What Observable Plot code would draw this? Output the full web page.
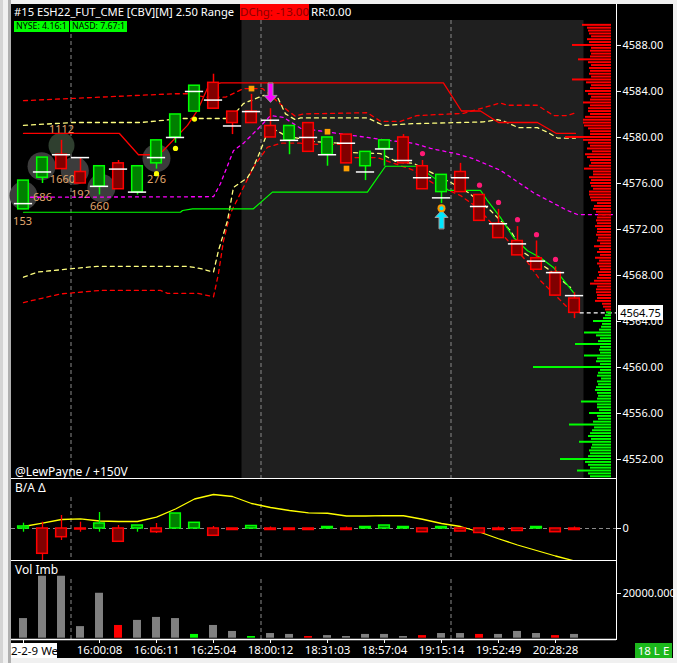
<!DOCTYPE html>
<html>
<head>
<meta charset="utf-8">
<script src="https://cdn.jsdelivr.net/npm/d3@7"></script>
<script src="https://cdn.jsdelivr.net/npm/@observablehq/plot@0.6"></script>
<style>
  html, body { margin:0; padding:0; background:#f0f0f0; }
  #wrap { position:relative; width:677px; height:663px; background:#f0f0f0; overflow:hidden; font-family:"Noto Sans", sans-serif; }
  .abs { position:absolute; }
  .txt { position:absolute; color:#fff; font-size:12px; line-height:15px; white-space:nowrap; }
  .plot { position:absolute; left:11px; }
  .plot svg { display:block; }
</style>
</head>
<body>
<div id="wrap">
  <div class="abs" style="left:0;top:0;width:3px;height:663px;background:#d4d4d4"></div>
  <div class="abs" style="left:8px;top:0;width:3px;height:663px;background:#b0b0b0"></div>
  <div class="abs" style="left:11px;top:4px;width:662px;height:654px;background:#000"></div>
  <div id="main" class="plot" style="top:4px"></div>
  <div id="profile" class="plot" style="top:4px"></div>
  <div id="delta" class="plot" style="top:478px"></div>
  <div id="vol" class="plot" style="top:560px"></div>

  <div class="abs" style="left:11px;top:478px;width:606px;height:1px;background:#fff"></div>
  <div class="abs" style="left:11px;top:560px;width:606px;height:1px;background:#fff"></div>
  <div class="abs" style="left:616px;top:4px;width:1px;height:636px;background:#fff"></div>

  <div class="txt" style="left:14px;top:4px;font-size:11.2px">#15 ESH22_FUT_CME [CBV][M] 2.50 Range</div>
  <div class="txt" style="left:240px;top:4px;width:69px;height:16px;background:#ff0000;color:#8a0000;text-align:center;font-size:11.5px">DChg: -13.00</div>
  <div class="txt" style="left:311px;top:4px;font-size:11.5px">RR:0.00</div>
  <div class="txt" style="left:14px;top:21px;height:11px;line-height:11px;font-size:8.8px;background:#00ff00;color:#000;padding:0 2px">NYSE: 4.16:1</div>
  <div class="txt" style="left:70px;top:21px;height:11px;line-height:11px;font-size:8.8px;background:#00ff00;color:#000;padding:0 2px">NASD: 7.67:1</div>
  <div class="txt" style="left:15px;top:464px">@LewPayne / +150V</div>
  <div class="txt" style="left:15px;top:480px">B/A Δ</div>
  <div class="txt" style="left:15px;top:562px">Vol Imb</div>
  <div class="txt" style="left:11px;top:643px;width:46px;height:15px;background:#fff;color:#000;font-size:11.5px">2-2-9 We</div>
  <div class="txt" style="left:635px;top:643px;width:37px;height:15px;background:#1cb81c;color:#fff;text-align:center;font-size:11.5px">18 L E</div>
  <div id="lastbox" class="txt" style="left:618px;width:45px;height:15px;background:#fff;color:#000;text-align:center;font-size:11px"></div>
</div>
<script>
// ---------- candles (2.50 range bars) ----------
const candleOpen  = [4573.75,4576.5,4578.5,4577.0,4575.75,4577.75,4575.25,4577.75,4580.0,4582.25,4584.75,4582.25,4582.25,4581.0,4579.75,4581.25,4578.5,4580.25,4577.5,4579.0,4580.0,4577.5,4575.25,4577.0,4575.0,4572.5,4571.0,4569.5,4568.25,4566.0];
const candleClose = [4576.25,4578.25,4577.25,4576.0,4577.5,4575.5,4577.5,4579.75,4582.0,4584.5,4582.5,4581.25,4581.25,4580.0,4581.0,4578.75,4580.0,4577.75,4578.75,4579.75,4577.75,4575.5,4576.75,4575.25,4572.75,4571.25,4569.75,4568.5,4566.25,4564.75];
const candleHigh  = [4576.25,4578.25,4579.75,4578.25,4577.5,4578.0,4577.5,4579.75,4582.0,4584.5,4585.5,4582.25,4583.75,4582.5,4581.0,4581.25,4580.0,4580.25,4578.75,4579.75,4580.25,4578.0,4576.75,4577.75,4575.0,4573.75,4572.25,4571.0,4568.75,4566.5];
const candleLow   = [4573.75,4576.0,4577.25,4576.0,4575.0,4575.5,4575.0,4577.25,4579.5,4582.25,4582.5,4580.25,4581.25,4580.0,4578.5,4578.75,4577.5,4577.75,4576.25,4577.5,4577.75,4575.5,4574.25,4575.25,4572.75,4571.25,4569.75,4568.5,4566.25,4564.25];
const candleMark  = [4574.25,4577.0,4578.5,4578.25,4575.75,4577.25,4575.25,4578.25,4580.0,4584.0,4583.25,4581.0,4582.25,4581.5,4579.75,4580.0,4578.5,4579.5,4577.0,4579.0,4578.0,4576.5,4574.75,4576.5,4574.0,4572.5,4570.75,4569.25,4568.25,4566.25];
const lastPrice = 4564.75;

// time axis labels (bar index -> label)
const timeTickIdx = [0,4,7,10,13,16,19,22,25,28];
const timeTickLabels = ["","16:00:08","16:06:11","16:25:04","18:00:12","18:31:03","18:57:04","19:15:14","19:52:49","20:28:28"];
const priceTicks = [4552,4556,4560,4564,4568,4572,4576,4580,4584,4588];

// session markers
const sessionBreaks = [2.5,12.5,22.5];
const sessionShade = [[11.5,29.5]];

// overlay lines: [bar index, price]
const redSolid = [[0,4580.35],[5.05,4580.35],[6.05,4578.5],[6.68,4578.5],[7.32,4578.8],[8.63,4581.05],[9.16,4582.35],[9.74,4584.5],[10.4,4584.75],[22.1,4584.75],[23.05,4582.3],[24.05,4582.3],[25.0,4581.3],[27.05,4581.3],[28.05,4580.35],[29.05,4580.35]];
const redDashUpper = [[0,4583.2],[7.9,4583.8],[8.63,4583.8],[9.6,4583.5],[10.63,4583.5],[11.58,4584.25],[12.58,4584.25],[13.42,4583.05],[13.9,4582.35],[14.3,4581.85],[14.74,4582.05],[18.1,4582.15],[18.8,4581.4],[19.84,4581.4],[20.7,4581.9],[23.16,4582.1],[25.1,4583.0],[25.47,4582.8],[27.05,4582.8],[27.9,4581.9],[28.63,4581.9],[29.05,4582.15]];
const yellowDashUpper = [[0,4581.05],[2.58,4581.3],[6.16,4581.3],[8.37,4581.65],[10.89,4581.65],[11.58,4582.95],[12.63,4583.65],[13.37,4583.5],[13.79,4582.05],[14.3,4581.55],[14.58,4581.7],[18.1,4581.7],[18.95,4581.05],[20.53,4581.2],[24.2,4581.35],[24.95,4581.55],[25.3,4581.4],[26.05,4580.85],[27.05,4580.85],[27.58,4580.45],[28.1,4579.95],[29.05,4579.95]];
const magentaDash = [[0,4574.8],[10.0,4574.85],[10.37,4576.0],[11.05,4578.85],[11.58,4579.5],[12.37,4580.8],[13.0,4581.9],[13.68,4581.75],[14.58,4580.8],[15.47,4580.6],[18.1,4580.0],[19.16,4579.75],[20.53,4579.5],[21.42,4579.05],[22.74,4578.6],[23.68,4578.15],[25.1,4577.15],[26.84,4575.2],[28.63,4573.65],[29.16,4573.3],[31.2,4573.3]];
const yellowDashLower = [[0,4567.85],[0.74,4568.3],[2.58,4568.6],[3.89,4568.8],[8.63,4568.8],[9.32,4568.6],[10.0,4568.3],[10.26,4570.15],[10.74,4572.8],[11.05,4575.65],[11.79,4576.5],[12.1,4577.4],[12.47,4578.85],[12.74,4580.0],[13.1,4580.8],[13.79,4580.15],[15.26,4579.65],[16.68,4579.5],[17.05,4578.7],[18.79,4578.6],[19.68,4577.85],[20.53,4577.75],[22.47,4576.1],[23.42,4575.2],[24.58,4573.65],[25.63,4571.9],[26.32,4570.0],[27.58,4568.6],[28.79,4566.95]];
const redDashLower = [[0,4565.65],[1.05,4566.05],[1.95,4566.4],[4.05,4566.7],[7.21,4566.7],[7.58,4566.45],[9.16,4566.45],[10.0,4566.15],[10.26,4568.15],[10.53,4571.05],[10.89,4573.4],[11.42,4575.15],[12.1,4577.4],[12.84,4579.15],[13.53,4579.5],[14.58,4579.5],[15.47,4579.4],[16.68,4579.4],[17.21,4578.25],[18.63,4578.25],[20.53,4577.15],[21.58,4576.0],[23.0,4574.95],[23.89,4573.9],[24.74,4572.35],[25.63,4570.8],[26.53,4569.15],[27.21,4567.55],[28.1,4566.1],[28.79,4564.95]];
const greenSolid = [[0,4573.5],[8.26,4573.5],[8.37,4573.65],[8.9,4573.8],[12.1,4573.8],[13.1,4575.25],[18.1,4575.25],[19.05,4577.5],[20.74,4577.5],[21.68,4576.4],[22.37,4575.4],[24.05,4575.4],[24.42,4574.5],[25.1,4573.05],[25.79,4571.3],[26.53,4570.15],[27.21,4569.55],[27.89,4568.7],[28.95,4566.5]];

// volume bubbles and their labels
const bubbleGray = [[0,4574.95],[0.95,4577.5],[2.7,4577.1],[4.1,4575.6],[7,4578.2]];
const bubbleGreen = [[2,4579.3]];
const bubbleLabels = [[-0.05,4572.7,"153"],[1,4574.8,"686"],[2,4580.7,"1112"],[2.05,4576.35,"1660"],[3,4575.05,"192"],[4,4574.0,"660"],[7,4576.35,"276"]];

// signal markers
const orangeSquares = [[12,4584.25],[16,4580.5],[17,4577.3]];
const pinkDots = [[21,4578.6],[24,4575.85],[25,4574.35],[26,4572.85],[27,4571.55],[28,4569.4]];
const yellowDots = [[7,4576.85],[8,4579.05],[9,4581.6]];
const sellArrow = [[13,4583.05]];
const buyArrow = [[22,4573.65]];
const buyDot = [[22,4573.85]];

// volume profile (right side), rows of 0.25 pt
const profileTop = 4589.75;
const profileAsk = [29,24,23,22,20,24,22,39,20,21,20,21,33,23,20,22,21,22,20,39,25,20,21,26,23,20,21,28,21,23,23,21,26,28,28,27,23,21,21,46,28,23,21,24,19,26,24,21,20,22,27,18,18,22,20,21,20,18,22,22,21,20,14,17,18,15,13,14,15,14,16,14,14,15,13,14,11,17,12,14,11,16,12,14,12,11,13,12,14,17,21,14,15,15,14,14,16,9,8,6];
const profileBid = [5,6,8,18,9,10,12,27,15,11,13,36,11,12,11,27,14,15,11,78,11,13,14,10,14,13,15,16,14,13,14,30,14,14,12,22,14,13,18,42,17,19,21,23,20,32,19,20,22,21,23,51,26,23,21,34,23,21];

// B/A delta panel
const deltaClose = [40,-506,-174,-20,100,-266,60,-74,300,114,-146,-30,50,-30,-30,-30,30,-30,30,60,30,-74,30,-60,-90,-30,-50,30,-74,-30];
const deltaHigh  = [106,126,260,126,320,60,60,100,300,114,40,0,50,30,0,0,30,30,30,60,30,0,30,0,0,30,0,30,0,30];
const deltaLow   = [-74,-640,-240,-74,-74,-266,-74,-100,0,0,-146,-30,0,-40,-30,-30,0,-30,0,0,0,-74,0,-60,-90,-30,-50,0,-74,-40];
const deltaTrend = [40,106,180,194,150,140,140,226,390,590,680,640,500,420,360,312,305,250,250,258,255,185,100,40,-70,-205,-330,-440,-550,-650];

// volume imbalance panel
const volImb = [9100,27500,27500,5600,20100,6100,8300,9600,9100,2200,6100,3500,1300,2600,2200,1300,1700,1300,2200,2200,1300,1700,2600,2600,2200,2200,3500,2600,1700,2200];
const volImbSide = ["n","n","n","n","n","s","n","n","n","b","n","n","b","n","n","s","n","n","n","n","n","s","n","n","s","n","n","n","s","n"];

// ---------- build ----------
const UP_FILL="#008000", UP_LINE="#00ff00", DN_FILL="#800000", DN_LINE="#ff0000";
const xDomain = [-0.6316, 31.21];
const priceDomain = [4550.35, 4590.17];
const W = 662, MR = 57;
const font = "'Noto Sans', sans-serif";
const baseStyle = {background:"transparent", color:"#fff", fontFamily:font, fontSize:"11px", overflow:"visible"};

const candles = candleOpen.map((o,i)=>({i, open:o, close:candleClose[i], high:candleHigh[i], low:candleLow[i], mark:candleMark[i], up:candleClose[i]>=o}));
const deltas = deltaClose.map((c,i)=>({i, open:0, close:c, high:deltaHigh[i], low:deltaLow[i], up:c>0}));
const vols = volImb.map((v,i)=>({i, v, side:volImbSide[i]}));
const askRows = profileAsk.map((v,k)=>({p:profileTop-0.25*k, v}));
const bidRows = profileBid.map((v,k)=>({p:lastPrice-0.25*k, v}));
const tickLabel = new Map(timeTickIdx.map((t,k)=>[t,timeTickLabels[k]]));

const blockArrow = {
  draw(context, l) {
    const sw = 2.5, hw = 6.5, hl = 7;
    context.moveTo(-sw, 0);
    context.lineTo(-sw, -(l - hl));
    context.lineTo(-hw, -(l - hl));
    context.lineTo(0, -l);
    context.lineTo(hw, -(l - hl));
    context.lineTo(sw, -(l - hl));
    context.lineTo(sw, 0);
    context.closePath();
  }
};
const X = d=>d[0], Y = d=>d[1];
const dashed = (data, stroke, dash, w=1.2) => Plot.line(data, {x:X, y:Y, stroke, strokeWidth:w, strokeDasharray:dash});

const main = Plot.plot({
  width:W, height:474, marginLeft:0, marginRight:MR, marginTop:16, marginBottom:0,
  style: baseStyle,
  x:{domain:xDomain, axis:null},
  y:{domain:priceDomain, axis:null},
  marks:[
    Plot.rect(sessionShade, {x1:X, x2:Y, y1:priceDomain[0], y2:priceDomain[1], fill:"#1f1f1f"}),
    Plot.ruleX(sessionBreaks, {stroke:"#8a8a8a", strokeDasharray:"4,3"}),
    Plot.dot(bubbleGray, {x:X, y:Y, r:14, fill:"#3c3c3c"}),
    Plot.dot(bubbleGreen, {x:X, y:Y, r:13, fill:"#2f3f2f"}),
    Plot.text(bubbleLabels, {x:X, y:Y, text:d=>d[2], fill:"#e2a86e", fontSize:11}),
    dashed(redDashLower, "#ff0000", "4,4", 1.3),
    dashed(yellowDashLower, "#ffff80", "4,4", 1.3),
    dashed(redDashUpper, "#ff0000", "4,4", 1.3),
    dashed(yellowDashUpper, "#ffff80", "4,4", 1.3),
    dashed(magentaDash, "#ff00ff", "3,4", 1.3),
    Plot.line(greenSolid, {x:X, y:Y, stroke:"#00ff00", strokeWidth:1.2}),
    Plot.line(redSolid, {x:X, y:Y, stroke:"#ff0000", strokeWidth:1.3}),
    Plot.ruleX(candles, {x:"i", y1:"low", y2:"high", stroke:d=>d.up?UP_LINE:DN_LINE, strokeWidth:1.5}),
    Plot.rect(candles, {x1:d=>d.i-0.28, x2:d=>d.i+0.28, y1:"open", y2:"close", fill:d=>d.up?UP_FILL:DN_FILL, stroke:d=>d.up?UP_LINE:DN_LINE, strokeWidth:1.5}),
    Plot.ruleY(candles, {y:"mark", x1:d=>d.i-0.48, x2:d=>d.i+0.48, stroke:"#ffffff", strokeWidth:1.5}),
    Plot.dot(yellowDots, {x:X, y:Y, r:2.6, fill:"#ffff00"}),
    Plot.dot(pinkDots, {x:X, y:Y, r:2.6, fill:"#ff1a75"}),
    Plot.dot(orangeSquares, {x:X, y:Y, r:3.2, symbol:"square", fill:"#ffa000"}),
    Plot.vector(sellArrow, {x:X, y:Y, length:19, rotate:180, anchor:"end", shape:blockArrow, fill:"#ff00ff", stroke:"#9a9a9a", strokeWidth:1}),
    Plot.vector(buyArrow, {x:X, y:Y, length:18, rotate:0, anchor:"end", shape:blockArrow, fill:"#00e8ff", stroke:"#a0a0a0", strokeWidth:1}),
    Plot.dot(buyDot, {x:X, y:Y, r:4, fill:"#ff9a00"}),
    Plot.dot(buyDot, {x:X, y:Y, r:2, fill:"#00e8ff"}),
    Plot.ruleY([lastPrice], {x1:candles.length-0.7, x2:xDomain[1], stroke:"#ffffff", strokeWidth:1.3, strokeDasharray:"4,3"}),
    Plot.axisY({anchor:"right", label:null, ticks:priceTicks, tickFormat:d3.format(".2f"), tickSize:4, tickPadding:2})
  ]
});
document.getElementById("main").append(main);

const profile = Plot.plot({
  width:W, height:474, marginLeft:0, marginRight:MR, marginTop:16, marginBottom:0,
  style: baseStyle,
  x:{domain:[0,100], range:[600,500], axis:null},
  y:{domain:priceDomain, axis:null},
  marks:[
    Plot.rect(askRows, {x1:0, x2:"v", y1:d=>d.p-0.125, y2:d=>d.p+0.125, insetTop:0.45, insetBottom:0.45, fill:"#ff0000"}),
    Plot.rect(bidRows, {x1:0, x2:"v", y1:d=>d.p-0.125, y2:d=>d.p+0.125, insetTop:0.45, insetBottom:0.45, fill:"#00ff00"})
  ]
});
document.getElementById("profile").append(profile);

const lb = document.getElementById("lastbox");
lb.textContent = d3.format(".2f")(lastPrice);
lb.style.top = (4 + main.scale("y").apply(lastPrice) - 7.5) + "px";

const delta = Plot.plot({
  width:W, height:82, marginLeft:0, marginRight:MR, marginTop:0, marginBottom:0,
  style: baseStyle,
  x:{domain:xDomain, axis:null},
  y:{domain:[-640,1000], axis:null},
  marks:[
    Plot.ruleY([0], {stroke:"#8a8a8a", strokeDasharray:"4,3"}),
    Plot.ruleX(sessionBreaks, {y1:-580, y2:680, stroke:"#8a8a8a", strokeDasharray:"4,3"}),
    Plot.line(deltaTrend, {x:(d,i)=>i, y:d=>d, stroke:"#ffff00", strokeWidth:1.3, clip:true}),
    Plot.ruleX(deltas, {x:"i", y1:"low", y2:"high", stroke:d=>d.up?UP_LINE:DN_LINE, strokeWidth:1.3}),
    Plot.rect(deltas, {x1:d=>d.i-0.28, x2:d=>d.i+0.28, y1:"open", y2:"close", fill:d=>d.up?UP_FILL:DN_FILL, stroke:d=>d.up?UP_LINE:DN_LINE, strokeWidth:1.5}),
    Plot.axisY({anchor:"right", label:null, ticks:[0], tickFormat:d=>String(d), tickSize:4, tickPadding:2})
  ]
});
document.getElementById("delta").append(delta);

const sideColor = {n:"#808080", s:"#ff0000", b:"#00ff00"};
const vol = Plot.plot({
  width:W, height:98, marginLeft:0, marginRight:MR, marginTop:0, marginBottom:19,
  style: baseStyle,
  x:{domain:xDomain, axis:null},
  y:{domain:[0,34348], axis:null},
  marks:[
    Plot.ruleX(sessionBreaks, {y1:0, y2:27000, stroke:"#8a8a8a", strokeDasharray:"4,3"}),
    Plot.rect(vols, {x1:d=>d.i-0.21, x2:d=>d.i+0.21, y1:0, y2:"v", insetBottom:1.3, fill:d=>sideColor[d.side]}),
    Plot.ruleY([0], {stroke:"#ffffff", strokeWidth:1.5}),
    Plot.axisX({anchor:"bottom", label:null, ticks:timeTickIdx, tickFormat:d=>tickLabel.get(d), tickSize:4, tickPadding:2, fontSize:11.5}),
    Plot.axisY({anchor:"right", label:null, ticks:[20000], tickFormat:d3.format(".3f"), tickSize:4, tickPadding:2})
  ]
});
document.getElementById("vol").append(vol);
</script>
</body>
</html>
